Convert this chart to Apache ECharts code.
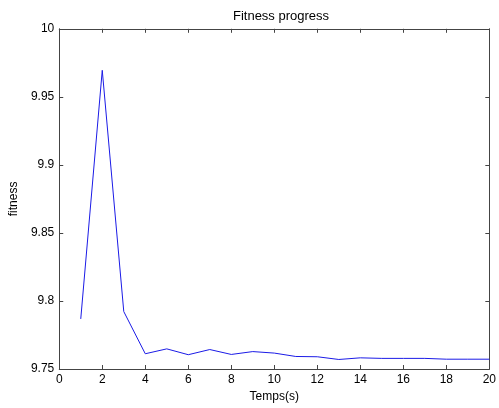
<!DOCTYPE html>
<html>
<head>
<meta charset="utf-8">
<script src="https://cdn.jsdelivr.net/npm/echarts@6/dist/echarts.min.js"></script>
<style>html,body{margin:0;padding:0;background:#fff}#c{width:499px;height:408px}</style>
</head>
<body>
<div id="c"></div>
<script>
var times = [1,2,3,4,5,6,7,8,9,10,11,12,13,14,15,16,17,18,19,20];
var fitness = [9.7868,9.9695,9.7922,9.7612,9.7648,9.7605,9.7643,9.7607,9.7628,9.7617,9.7592,9.7590,9.7570,9.7582,9.7578,9.7578,9.7578,9.7572,9.7572,9.7572];
var titleText = 'Fitness progress';
var xName = 'Temps(s)';
var yName = 'fitness';

var chart = echarts.init(document.getElementById('c'), null, {renderer:'canvas'});
var font = 'Liberation Sans, Arial, sans-serif';
var axisCol = '#444';
function yFmt(v){ return String(+v.toFixed(2)); }
var pts = times.map(function(t,i){ return [t, fitness[i]]; });
chart.setOption({
  animation:false,
  title:{text:titleText, left:276, top:5, textAlign:'center',
    textStyle:{fontFamily:font, fontSize:13, fontWeight:'normal', color:'#000'}},
  grid:{left:57.6, right:4.4, top:28.8, bottom:37.7, containLabel:false},
  xAxis:[{
    type:'value', min:0, max:20, interval:2, position:'bottom',
    name:xName, nameLocation:'middle', nameGap:22,
    nameTextStyle:{fontFamily:font, fontSize:12, color:'#000'},
    axisLine:{show:true, onZero:false, lineStyle:{color:axisCol, width:1}},
    axisTick:{show:true, inside:true, length:4, lineStyle:{color:axisCol}},
    axisLabel:{fontFamily:font, fontSize:12, color:'#000', margin:5},
    splitLine:{show:false}
  },{
    type:'value', min:0, max:20, interval:2, position:'top',
    axisLine:{show:true, onZero:false, lineStyle:{color:axisCol, width:1}},
    axisTick:{show:true, inside:true, length:4, lineStyle:{color:axisCol}},
    axisLabel:{show:false}, splitLine:{show:false}
  }],
  yAxis:[{
    type:'value', min:9.75, max:10, interval:0.05, position:'left',
    name:yName, nameLocation:'middle', nameGap:36, nameRotate:90,
    nameTextStyle:{fontFamily:font, fontSize:12, color:'#000'},
    axisLine:{show:true, onZero:false, lineStyle:{color:axisCol, width:1}},
    axisTick:{show:true, inside:true, length:4, lineStyle:{color:axisCol}},
    axisLabel:{fontFamily:font, fontSize:12, color:'#000', margin:5, formatter:yFmt},
    splitLine:{show:false}
  },{
    type:'value', min:9.75, max:10, interval:0.05, position:'right',
    axisLine:{show:true, onZero:false, lineStyle:{color:axisCol, width:1}},
    axisTick:{show:true, inside:true, length:4, lineStyle:{color:axisCol}},
    axisLabel:{show:false}, splitLine:{show:false}
  }],
  series:[{
    type:'line', data:pts, xAxisIndex:0, yAxisIndex:0,
    showSymbol:false, symbol:'none',
    lineStyle:{color:'#1a1ae6', width:1}
  }]
});
</script>
</body>
</html>
